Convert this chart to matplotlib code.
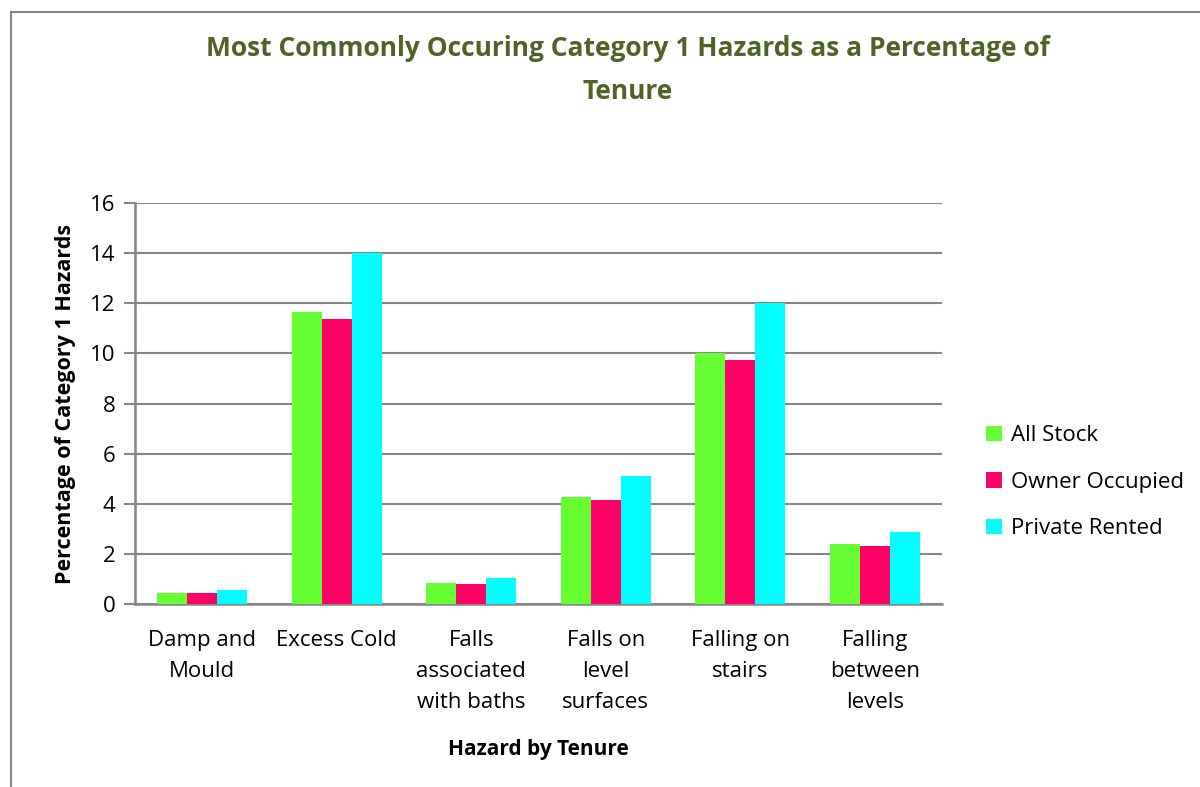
import numpy as np
import matplotlib.pyplot as plt
from matplotlib.patches import Rectangle

plt.rcParams['font.family'] = ['Open Sans', 'DejaVu Sans']

# -------------------------
# DATA
# -------------------------
categories = ["Damp and\nMould", "Excess Cold", "Falls\nassociated\nwith baths",
              "Falls on\nlevel\nsurfaces", "Falling on\nstairs", "Falling\nbetween\nlevels"]
series_names = ["All Stock", "Owner Occupied", "Private Rented"]
all_stock = [0.45, 11.66, 0.83, 4.28, 10.03, 2.38]
owner_occupied = [0.43, 11.36, 0.81, 4.15, 9.75, 2.31]
private_rented = [0.56, 14.0, 1.03, 5.12, 12.02, 2.87]
colors = ["#66FF33", "#FF0066", "#00FFFF"]

grey = "#868686"

fig = plt.figure(figsize=(12, 7.87), dpi=100)
ax = fig.add_axes([0.1125, 0.2325, 0.6725, 0.5095])

# outer chart border (cropped on right/bottom)
fig.patches.append(Rectangle((0.009, -0.05), 1.1, 1.035, transform=fig.transFigure,
                             fill=False, edgecolor=grey, linewidth=1.5))

x = np.arange(len(categories))
w = 1 / 4.5
for i, (vals, name) in enumerate(zip([all_stock, owner_occupied, private_rented], series_names)):
    ax.bar(x + (i - 1) * w, vals, width=w, color=colors[i], label=name, zorder=3)

ax.set_xlim(-0.5, len(categories) - 0.5)
ax.set_ylim(0, 16)
ax.set_yticks(np.arange(0, 17, 2))
ax.set_xticks(x)
ax.set_xticklabels(categories, fontsize=16, linespacing=1.6)
ax.tick_params(axis='x', length=0, pad=19)
ax.tick_params(axis='y', length=8, color=grey, width=1.5, labelsize=16, pad=6)

ax.grid(axis='y', color=grey, linewidth=1.5, zorder=0)
for s in ['top', 'right']:
    ax.spines[s].set_visible(False)
for s in ['left', 'bottom']:
    ax.spines[s].set_color(grey)
    ax.spines[s].set_linewidth(1.8)

ax.set_xlabel("Hazard by Tenure", fontsize=15, fontweight='bold', labelpad=19)
ax.set_ylabel("Percentage of Category 1 Hazards", fontsize=15.5, fontweight='bold', labelpad=10)

fig.text(0.523, 0.911, "Most Commonly Occuring Category 1 Hazards as a Percentage of\nTenure",
         ha='center', va='center', fontsize=19, fontweight='bold', color="#4F6228",
         linespacing=1.75)

ax.legend(loc='center left', bbox_to_anchor=(1.03, 0.304), frameon=False, fontsize=16,
          handlelength=0.7, handleheight=0.7, handletextpad=0.4, labelspacing=1.15)

plt.savefig("out.png", dpi=100)
